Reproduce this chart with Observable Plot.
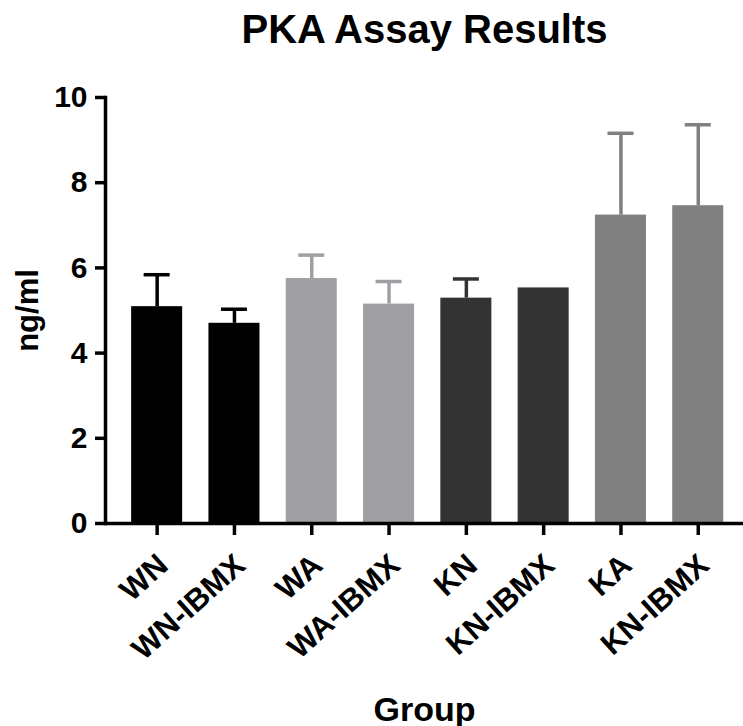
<!DOCTYPE html>
<html>
<head>
<meta charset="utf-8">
<script src="https://cdn.jsdelivr.net/npm/d3@7"></script>
<script src="https://cdn.jsdelivr.net/npm/@observablehq/plot@0.6"></script>
<style>
  html, body { margin: 0; padding: 0; background: #fff; }
  #chart svg { display: block; }
</style>
</head>
<body>
<div id="chart"></div>
<script>
const groups = ["WN", "WN-IBMX", "WA", "WA-IBMX", "KN", "KN-IBMX", "KA", "KN-IBMX"];
const means  = [5.09, 4.70, 5.75, 5.15, 5.29, 5.53, 7.24, 7.46];
const sds    = [0.75, 0.33, 0.55, 0.53, 0.45, 0, 1.92, 1.90];
const barColors = ["#000000", "#000000", "#a0a0a4", "#a0a0a4", "#333333", "#333333", "#808080", "#808080"];
const yTicks = [0, 2, 4, 6, 8, 10];
const titleText = "PKA Assay Results";
const xLabel = "Group";
const yLabel = "ng/ml";

const data = groups.map((g, i) => ({i, group: g, mean: means[i], sd: sds[i], upper: means[i] + sds[i], color: barColors[i]}));
const errData = data.filter(d => d.sd > 0);

const font = "'Liberation Sans', Arial, Helvetica, sans-serif";

const chart = Plot.plot({
  width: 743,
  height: 726,
  marginLeft: 105,
  marginRight: 0,
  marginTop: 97,
  marginBottom: 203,
  style: {fontFamily: font, background: "#fff", color: "#000", overflow: "visible"},
  x: {type: "band", domain: d3.range(groups.length), range: [118, 736.4], paddingInner: 0.34, paddingOuter: 0.17, round: false, axis: null},
  y: {domain: [0, 10], axis: null},
  color: {type: "identity"},
  marks: [
    Plot.barY(data, {x: "i", y: "mean", fill: "color"}),
    Plot.ruleX(errData, {x: "i", y1: "mean", y2: "upper", stroke: "color", strokeWidth: 3.5}),
    Plot.tickY(errData, {x: "i", y: "upper", stroke: "color", strokeWidth: 3.5, insetLeft: 12.5, insetRight: 12.5}),
    Plot.ruleY([0], {stroke: "#000", strokeWidth: 3.5}),
    Plot.frame({anchor: "left", stroke: "#000", strokeWidth: 3.5}),
    Plot.axisY({ticks: yTicks, tickSize: 10, tickPadding: 8, strokeWidth: 3.5, fill: "none", label: null}),
    Plot.axisY({ticks: yTicks, tickSize: 10, tickPadding: 8, stroke: "none", fontSize: 30, fontWeight: "bold", label: null}),
    Plot.axisX({tickSize: 12, strokeWidth: 3.5, fill: "none", label: null}),
    Plot.text(data, {x: "i", text: "group", frameAnchor: "bottom", rotate: -42, textAnchor: "end", lineAnchor: "top", dx: -2, dy: 28, fontSize: 31, fontWeight: "bold"}),
    Plot.text([titleText], {frameAnchor: "top", lineAnchor: "bottom", dy: -55, fontSize: 40, fontWeight: "bold"}),
    Plot.text([xLabel], {frameAnchor: "bottom", lineAnchor: "bottom", dy: 197, fontSize: 34, fontWeight: "bold"}),
    Plot.text([yLabel], {frameAnchor: "left", rotate: -90, textAnchor: "middle", lineAnchor: "middle", dx: -77, fontSize: 31, fontWeight: "bold"})
  ]
});
document.getElementById("chart").appendChild(chart);
</script>
</body>
</html>
